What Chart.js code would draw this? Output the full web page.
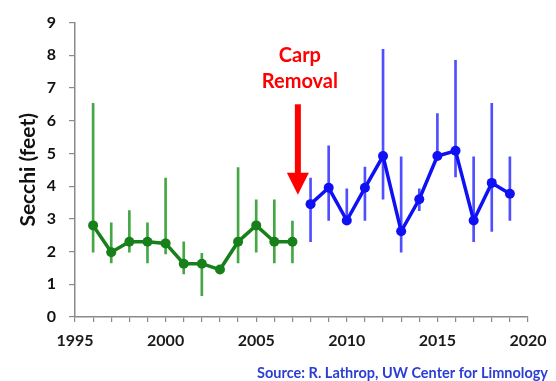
<!DOCTYPE html>
<html>
<head>
<meta charset="utf-8">
<script src="https://cdn.jsdelivr.net/npm/chart.js@4"></script>
<style>
html,body{margin:0;padding:0;background:#fff;}
#wrap{width:556px;height:381px;position:relative;}
</style>
</head>
<body>
<div id="wrap"><canvas id="c" width="556" height="381"></canvas></div>
<script>
// ---- data ----
const yearsBefore = [1996,1997,1998,1999,2000,2001,2002,2003,2004,2005,2006,2007];
const secchiBefore = [2.80,1.98,2.30,2.30,2.25,1.63,1.63,1.45,2.30,2.80,2.30,2.30];
const lowBefore  = [1.98,1.65,1.98,1.65,1.93,1.32,0.65,1.40,1.65,1.98,1.65,1.65];
const highBefore = [6.53,2.88,3.25,2.88,4.25,2.30,1.95,1.50,4.57,3.58,3.58,2.93];

const yearsAfter = [2008,2009,2010,2011,2012,2013,2014,2015,2016,2017,2018,2019];
const secchiAfter = [3.45,3.95,2.95,3.95,4.92,2.62,3.60,4.92,5.08,2.95,4.10,3.77];
const lowAfter  = [2.30,2.95,2.95,2.95,3.60,1.98,3.25,4.92,4.28,2.30,2.62,2.95];
const highAfter = [4.25,5.23,3.92,4.58,8.18,4.90,3.92,6.22,7.85,4.90,6.53,4.90];

const yTicks = [0,1,2,3,4,5,6,7,8,9];
const xLabelYears = [1995,2000,2005,2010,2015,2020];
const annotationLines = ['Carp','Removal'];
const annotationYear = 2007.3;
const arrowFrom = 6.35, arrowTo = 3.74;
const sourceText = 'Source: R. Lathrop, UW Center for Limnology';

const FONT = 'Lato, "Open Sans", "Liberation Sans", sans-serif';
const GREEN = '#17801a', GREEN_BAR = '#43a843';
const BLUE = '#1010f5', BLUE_BAR = '#4f4fff';

const pts = (xs, ys) => xs.map((x,i)=>({x:x, y:ys[i]}));
const bars = (xs, lo, hi) => xs.map((x,i)=>({x:x, y:[lo[i],hi[i]]}));

const annotationPlugin = {
  id:'annot',
  afterDatasetsDraw(chart){
    const ctx = chart.ctx, xs = chart.scales.x, ys = chart.scales.y;
    const cx = xs.getPixelForValue(annotationYear);
    ctx.save();
    ctx.fillStyle = '#ff0000';
    ctx.strokeStyle = '#ff0000';
    ctx.font = 'bold 20px ' + FONT;
    ctx.textAlign = 'center';
    ctx.textBaseline = 'middle';
    ctx.fillText(annotationLines[0], cx + 2, 56);
    ctx.fillText(annotationLines[1], cx + 2, 82);
    const y0 = ys.getPixelForValue(arrowFrom) - 5, y1 = ys.getPixelForValue(arrowTo);
    const headH = 22, headW = 11;
    ctx.lineWidth = 6;
    ctx.beginPath();
    ctx.moveTo(cx, y0);
    ctx.lineTo(cx, y1 - headH + 2);
    ctx.stroke();
    ctx.beginPath();
    ctx.moveTo(cx - headW, y1 - headH);
    ctx.lineTo(cx + headW, y1 - headH);
    ctx.lineTo(cx, y1);
    ctx.closePath();
    ctx.fill();
    // source
    ctx.fillStyle = '#2a3ed6';
    ctx.font = 'bold 14.5px ' + FONT;
    ctx.textAlign = 'right';
    ctx.fillText(sourceText, chart.width - 8, 373);
    ctx.restore();
  }
};

new Chart(document.getElementById('c'), {
  type: 'line',
  data: {
    datasets: [
      {type:'bar', data: bars(yearsBefore, lowBefore, highBefore), backgroundColor: GREEN_BAR, barThickness: 2, grouped:false, order: 3},
      {type:'bar', data: bars(yearsAfter, lowAfter, highAfter), backgroundColor: BLUE_BAR, barThickness: 2, grouped:false, order: 3},
      {type:'line', data: pts(yearsBefore, secchiBefore), borderColor: GREEN, backgroundColor: GREEN, borderWidth: 3.5, pointRadius: 5, pointBorderWidth: 0, tension: 0, order: 1},
      {type:'line', data: pts(yearsAfter, secchiAfter), borderColor: BLUE, backgroundColor: BLUE, borderWidth: 3.5, pointRadius: 5, pointBorderWidth: 0, tension: 0, order: 1}
    ]
  },
  options: {
    responsive: false,
    animation: false,
    layout: { padding: { top: 17, right: 28, bottom: 0, left: 0 } },
    plugins: { legend: {display:false}, tooltip: {enabled:false} },
    scales: {
      x: {
        type: 'linear', min: 1995, max: 2020, offset: false,
        afterFit(s){ s.height = 64; },
        afterBuildTicks(s){ s.ticks = []; for (let y = 1995; y <= 2020; y++) s.ticks.push({value:y}); },
        ticks: {
          autoSkip: false, maxRotation: 0,
          padding: 9,
          color: '#1a1a1a',
          font: {family: FONT, size: 16, weight: 'bold'},
          callback: v => xLabelYears.includes(v) ? String(v) : ''
        },
        grid: { drawOnChartArea: false, drawTicks: true, tickLength: 5, color: '#8a8a8a', lineWidth: 1.2, offset:false },
        border: { color: '#8a8a8a', width: 1.5 }
      },
      y: {
        min: 0, max: 9,
        afterFit(s){ s.width = 75; },
        afterBuildTicks(s){ s.ticks = yTicks.map(v=>({value:v})); },
        ticks: {
          padding: 13,
          color: '#111',
          font: {family: FONT, size: 16, weight: 'bold'}
        },
        title: {
          display: true, text: 'Secchi (feet)', color: '#111',
          font: {family: FONT, size: 21, weight: 'bold'},
          padding: {top: 16, bottom: 0}
        },
        grid: { drawOnChartArea: false, drawTicks: true, tickLength: 6, color: '#8a8a8a', lineWidth: 1.2 },
        border: { color: '#8a8a8a', width: 1.5 }
      }
    }
  },
  plugins: [annotationPlugin]
});
</script>
</body>
</html>
